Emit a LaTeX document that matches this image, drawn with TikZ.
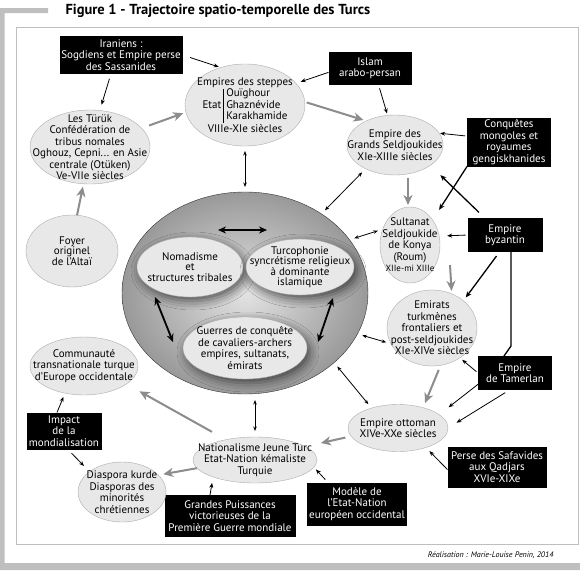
\documentclass[tikz,border=0pt]{standalone}
\usepackage{fontspec}
\setmainfont{PT Sans}
\usetikzlibrary{arrows.meta, shapes.geometric, shadows.blur}
\tikzset{
  texte/.style={align=center, font=\fontsize{11}{11.5}\selectfont},
  bulle/.style={ellipse, draw=gray!65, fill=gray!18, inner sep=0pt, outer sep=0pt},
  dans/.style={label={[texte]center:{#1}}},
  serre/.style={label={[texte, font=\fontsize{11}{10.5}\selectfont]center:{#1}}},
  boite/.style={texte, fill=black, text=white, inner sep=0pt, outer sep=0pt},
  ombre/.style={blur shadow={shadow xshift=3pt, shadow yshift=-4pt, shadow blur radius=9pt, shadow opacity=60}},
  lien/.style={-{Stealth[length=5pt,width=4pt]}, line width=.8pt},
  lienfort/.style={-{Stealth[length=6pt,width=5pt]}, line width=1.3pt},
  aller/.style={{Stealth[length=4.5pt,width=3.5pt]}-{Stealth[length=4.5pt,width=3.5pt]}, line width=.8pt},
  grise/.style={-{Stealth[length=10pt,width=9pt,inset=3pt]}, line width=2pt, draw=gray!90},
  noyau/.style={{Stealth[length=8pt,width=7pt]}-{Stealth[length=8pt,width=7pt]}, line width=1.8pt},
}

\begin{document}
\begin{tikzpicture}[x=1pt,y=-1pt]
  \useasboundingbox (0,0) rectangle (580,570);
  \fill[gray!50] (0,8) rectangle (48,13) (0,8) rectangle (4.5,570) (0,563) rectangle (580,570);
  \draw[gray!50, line width=.7pt, fill=white] (16,27) rectangle (578,544);
  \node[anchor=base west, font=\fontsize{14.5}{16}\selectfont\bfseries] (titre) at (62,14) {Figure 1 - Trajectoire spatio-temporelle des Turcs};
  \node[anchor=base east, font=\fontsize{8}{9}\selectfont\itshape] (auteur) at (557,557) {Réalisation : Marie-Louise Penin, 2014};

  \node[boite, minimum width=123pt, minimum height=38pt] (iran) at (121,55) {Iraniens :\\Sogdiens et Empire perse\\des Sassanides};
  \node[bulle, minimum width=120pt, minimum height=82pt, dans={Empires des steppes\\Etat\,\vrule width 1.2pt\,\begin{tabular}{@{}l@{}}Ouïghour\\Ghaznévide\\Karakhamide\end{tabular}\\VIIIe-XIe siècles}] (steppes) at (245,105) {};
  \node[bulle, minimum width=120pt, minimum height=74pt, dans={Les Türük\\Confédération de\\tribus nomales\\Oghouz, Cepni... en Asie\\centrale (Otüken)\\Ve-VIIe siècles}] (turuk) at (90,147) {};
  \node[bulle, minimum width=92pt, minimum height=72pt, serre={Foyer\\originel\\de l'Altaï}] (foyer) at (72,251) {};
  \node[boite, minimum width=83pt, minimum height=33pt] (islam) at (370,68) {Islam\\arabo-persan};
  \node[bulle, minimum width=96pt, minimum height=60pt, dans={Empire des\\Grands Seldjoukides\\XIe-XIIIe siècles}] (grands) at (395,145) {};
  \node[boite, minimum width=84pt, minimum height=49pt] (mongol) at (509,142) {Conquêtes\\mongoles et\\royaumes\\gengiskhanides};
  \node[bulle, minimum width=60pt, minimum height=76pt, dans={Sultanat\\Seldjoukide\\de Konya\\(Roum)\\{\fontsize{9}{10}\selectfont XIIe-mi XIIIe}}] (konya) at (410,245) {};
  \node[boite, minimum width=75pt, minimum height=34pt] (byz) at (505,235) {Empire\\byzantin};
  \node[bulle, minimum width=90pt, minimum height=76pt, dans={Emirats\\turkmènes\\frontaliers et\\post-seldjoukides\\XIe-XIVe siècles}] (emirats) at (432,328) {};
  \node[boite, minimum width=74pt, minimum height=34pt] (tamerlan) at (515,373) {Empire\\de Tamerlan};
  \node[bulle, minimum width=100pt, minimum height=47pt, dans={Empire ottoman\\XIVe-XXe siècles}] (ottoman) at (398,428) {};
  \node[boite, minimum width=99pt, minimum height=41pt] (perse) at (497,467) {Perse des Safavides\\aux Qadjars\\XVIe-XIXe};
  \node[bulle, minimum width=124pt, minimum height=46pt, dans={Nationalisme Jeune Turc\\Etat-Nation kémaliste\\Turquie}] (nation) at (255,460) {};
  \node[boite, minimum width=131pt, minimum height=42pt] (puissances) at (230,516) {Grandes Puissances\\victorieuses de la\\Première Guerre mondiale};
  \node[boite, minimum width=100pt, minimum height=43pt] (modele) at (357,504) {Modèle de\\l'Etat-Nation\\européen occidental};
  \node[bulle, minimum width=88pt, minimum height=60pt, dans={Diaspora kurde\\Diasporas des\\minorités\\chrétiennes}] (diaspora) at (122,492) {};
  \node[boite, minimum width=75pt, minimum height=37pt] (impact) at (64,431) {Impact\\de la\\mondialisation};
  \node[bulle, minimum width=108pt, minimum height=58pt, dans={Communauté\\transnationale turque\\d'Europe occidentale}] (communaute) at (84,366) {};

  \node[ellipse, draw=black!80, minimum width=246pt, minimum height=202pt, inner sep=0pt, outer sep=0pt, shading=radial, inner color=gray!22, outer color=gray!80] (core) at (245,293) {};
  \node[bulle, ombre, minimum width=106pt, minimum height=60pt, serre={Nomadisme\\et\\structures tribales}] (nomad) at (190,267) {};
  \node[bulle, ombre, minimum width=108pt, minimum height=56pt, serre={Turcophonie\\syncrétisme religieux\\à dominante\\islamique}] (turco) at (300,267) {};
  \node[bulle, ombre, minimum width=124pt, minimum height=62pt, dans={Guerres de conquête\\de cavaliers-archers\\empires, sultanats,\\émirats}] (guerres) at (245,348) {};

  \draw[noyau] ([xshift=28pt,yshift=7pt]nomad.north) -- ([xshift=-33pt,yshift=9pt]turco.north);
  \draw[noyau] ([xshift=-35pt]nomad.south) -- ([xshift=-10pt,yshift=6pt]guerres.west);
  \draw[noyau] ([xshift=33pt,yshift=-3pt]turco.south) -- ([xshift=11pt,yshift=6pt]guerres.east);

  \draw[lien, shorten <=8pt, shorten >=2pt] (iran.east) -- (steppes.123);
  \draw[lien, shorten <=5pt, shorten >=6pt] (iran.242) -- (turuk.75);
  \draw[lien, shorten >=5pt] (islam.186) -- (steppes.23);
  \draw[lien, shorten <=4pt, shorten >=2pt] (islam.297) -- (grands.104);
  \draw[lien, shorten <=2pt, shorten >=1pt] (mongol.172) -- (grands.15);
  \draw[lien, shorten <=2pt, shorten >=8pt] (byz.west) -- (konya.17);
  \draw[lien, shorten <=2pt, shorten >=3pt] (tamerlan.west) -- (emirats.-47);
  \draw[lien, shorten >=12pt] (tamerlan.197) -- (ottoman.18);
  \draw[lien, shorten <=5pt, shorten >=10pt] (tamerlan.252) -- (ottoman.east);
  \draw[lien, shorten >=5pt] (perse.183) -- (ottoman.-35);
  \draw[lien, shorten >=6pt] ([xshift=-20pt]puissances.north) -- (nation.202);
  \draw[lien, shorten <=4pt, shorten >=3pt] ([xshift=-29pt]modele.north) -- (nation.-7);
  \draw[lien, shorten >=4pt] ([xshift=-7pt]impact.north) -- (communaute.235);
  \draw[lien, shorten <=5pt, shorten >=8pt] ([xshift=4pt]impact.south) -- (diaspora.148);

  \draw[lienfort, shorten >=12pt] (mongol.south west) -- (konya.48);
  \draw[lienfort, shorten <=8pt, shorten >=14pt] (byz.140) -- (grands.330);
  \draw[lienfort, shorten <=5pt, shorten >=4pt] (byz.252) -- (emirats.41);
  \draw[line width=1.3pt] ([xshift=6pt]byz.south) -- ++(0,94) -- ([xshift=-11pt]tamerlan.north);

  \draw[grise, shorten <=8pt, shorten >=3pt] (turuk.20) -- (steppes.187);
  \draw[grise, shorten >=3pt] (foyer.82) -- (turuk.260);
  \draw[grise, shorten <=2pt, shorten >=3pt] (steppes.3) -- (grands.140);
  \draw[grise, shorten <=3pt, shorten >=2pt] ([xshift=13pt]grands.south) -- ([xshift=-2pt]konya.north);
  \draw[grise, shorten >=3pt] ([xshift=40pt,yshift=-20pt]konya.center) -- (emirats.60);
  \draw[grise, shorten <=5pt, shorten >=5pt] (emirats.283) -- (ottoman.39);
  \draw[grise, shorten <=6pt, shorten >=16pt] (ottoman.190) -- (nation.15);
  \draw[grise, shorten <=16pt, shorten >=15pt] (nation.145) -- (communaute.-23);
  \draw[grise, shorten >=5pt] (nation.188) -- (diaspora.25);

  \foreach \a/\b in {steppes.south/core.north, core.27/konya.150, core.46/grands.219, core.-20/emirats.201, core.-38/ottoman.143}{
    \draw[aller, shorten <=5pt, shorten >=5pt] (\a) -- (\b);
  }
  \draw[aller, shorten <=6pt, shorten >=6pt] (nation.north) -- (nation.north |- core.south);
\end{tikzpicture}
\end{document}
